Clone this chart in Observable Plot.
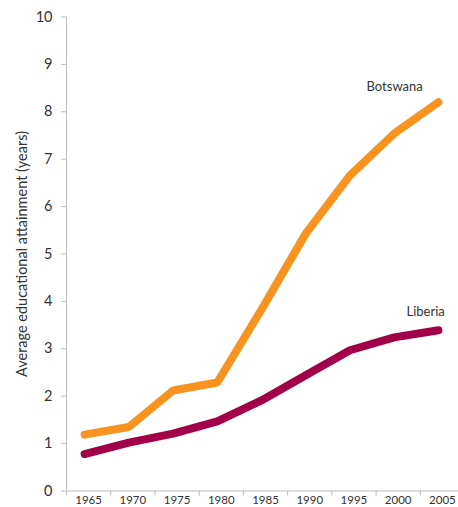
<!DOCTYPE html>
<html>
<head>
<meta charset="utf-8">
<script src="https://cdn.jsdelivr.net/npm/d3@7"></script>
<script src="https://cdn.jsdelivr.net/npm/@observablehq/plot@0.6"></script>
<style>
  html, body { margin: 0; padding: 0; background: #fff; }
  svg { display: block; }
</style>
</head>
<body>
<div id="chart"></div>
<script>
const years = [1965, 1970, 1975, 1980, 1985, 1990, 1995, 2000, 2005];
const botswana = [1.19, 1.35, 2.12, 2.29, 3.83, 5.43, 6.66, 7.54, 8.2];
const liberia = [0.78, 1.02, 1.21, 1.47, 1.91, 2.44, 2.97, 3.24, 3.39];
const yTicks = [0, 1, 2, 3, 4, 5, 6, 7, 8, 9, 10];
const seriesNames = ["Botswana", "Liberia"];
const seriesColors = ["#F7931E", "#A3004A"];
const labelX = [1999.6, 2003.1];
const labelY = [8.52, 3.77];

const rows = [];
years.forEach((yr, i) => {
  rows.push({year: yr, value: botswana[i], country: "Botswana"});
  rows.push({year: yr, value: liberia[i], country: "Liberia"});
});
const labels = seriesNames.map((n, i) => ({name: n, x: labelX[i], y: labelY[i]}));
const boundaries = years.map(y => y - 2.5);

const font = "Lato, 'Open Sans', sans-serif";
const chart = Plot.plot({
  width: 458,
  height: 507,
  marginLeft: 66,
  marginRight: 0,
  marginTop: 16.5,
  marginBottom: 16.5,
  style: {fontFamily: font, background: "#fff"},
  x: {domain: [1962.5, 2006.82]},
  y: {domain: [0, 10]},
  color: {domain: seriesNames, range: seriesColors},
  marks: [
    Plot.ruleY([0], {stroke: "#bdbdbd", strokeWidth: 1}),
    Plot.ruleX([1962.5], {y1: 0, y2: 10, stroke: "#bdbdbd", strokeWidth: 1}),
    Plot.axisY(yTicks, {tickSize: 5, tickPadding: 9, stroke: "#bdbdbd", fill: "#333", fontSize: 14.5,
      label: "Average educational attainment (years)", labelAnchor: "center", labelOffset: 50, labelArrow: "none"}),
    Plot.axisX(boundaries, {tickSize: 5, text: null, stroke: "#bdbdbd", label: null}),
    Plot.axisX(years, {tickSize: 0, tickPadding: 5, fill: "#333", fontSize: 11.5, tickFormat: d => String(d), label: null}),
    Plot.line(rows, {x: "year", y: "value", z: "country", stroke: "country", strokeWidth: 8,
      strokeLinecap: "round", strokeLinejoin: "miter", dx: -4}),
    Plot.text(labels, {x: "x", y: "y", text: "name", fill: "#333", fontSize: 13})
  ]
});
document.getElementById("chart").appendChild(chart);
</script>
</body>
</html>
